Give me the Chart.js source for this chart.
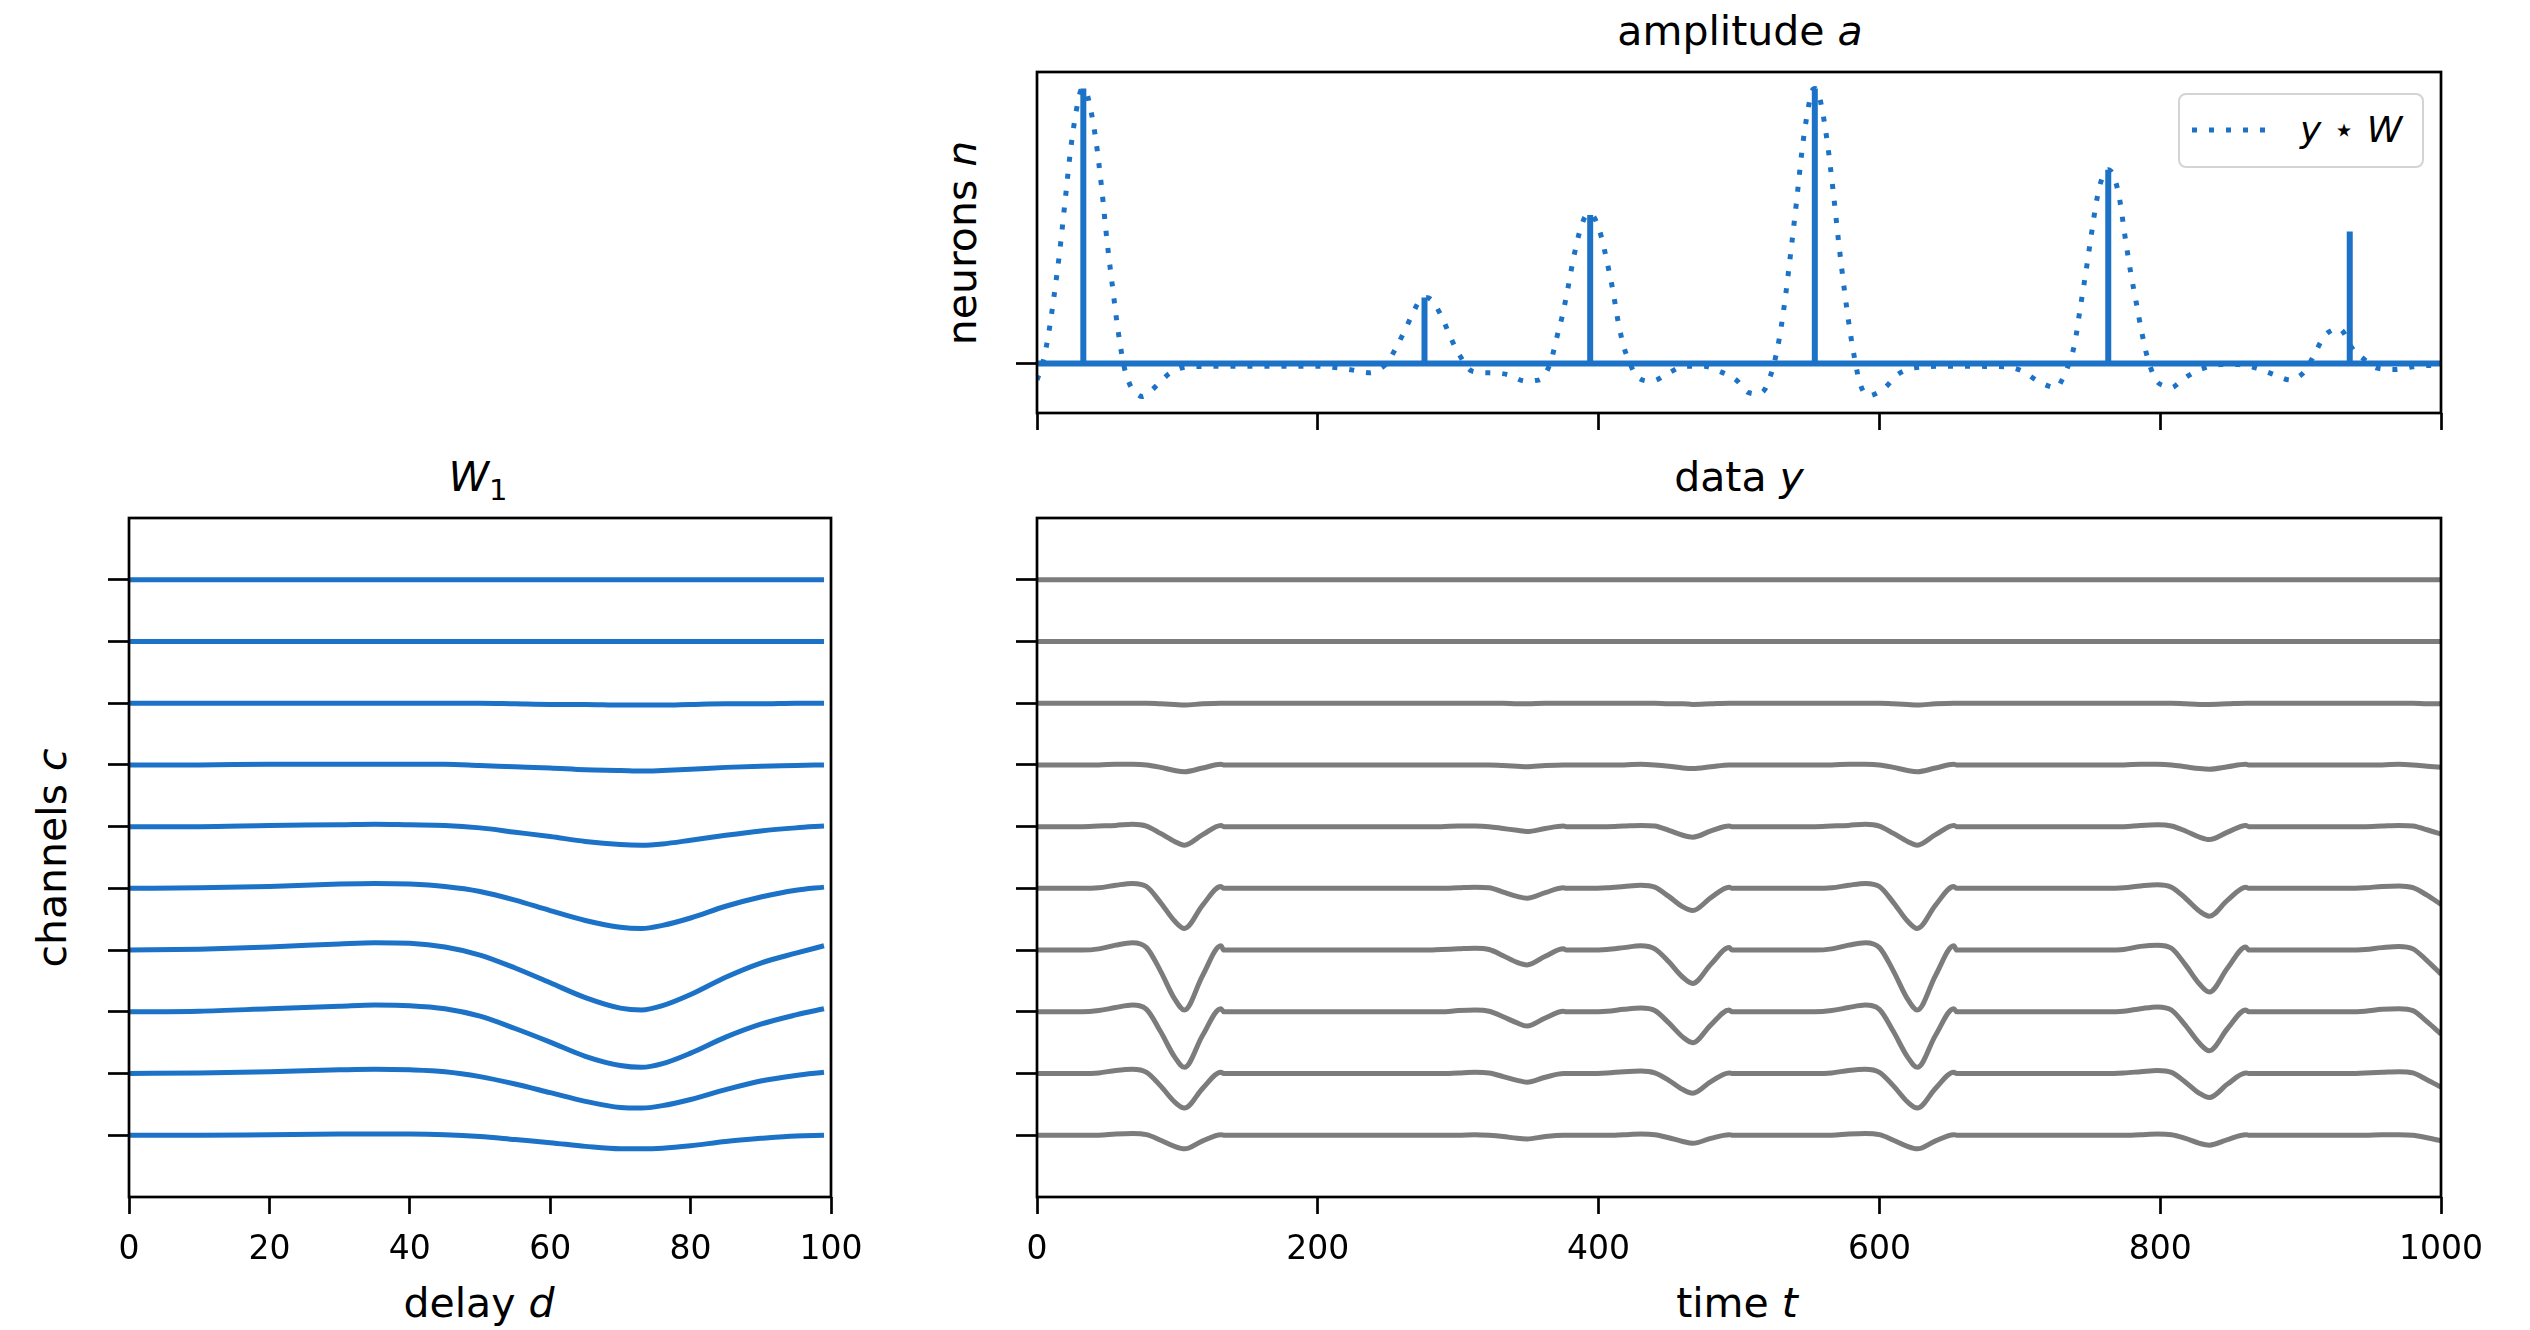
<!DOCTYPE html>
<html>
<head>
<meta charset="utf-8">
<script src="https://cdn.jsdelivr.net/npm/chart.js@4.4.1/dist/chart.umd.min.js"></script>
<style>
  html, body { margin: 0; padding: 0; background: #fff; }
  body { width: 2530px; height: 1330px; position: relative; overflow: hidden; font-family: 'DejaVu Sans', sans-serif; color: #000; }
  .panel { position: absolute; }
  .txt { position: absolute; transform: translate(-50%, -50%); white-space: nowrap; line-height: 1; }
  .rot { transform: translate(-50%, -50%) rotate(-90deg); }
  .big { font-size: 41px; }
  #legend { position: absolute; left: 2178px; top: 93px; width: 242px; height: 71px; border: 2px solid #d4d4d4; border-radius: 8px; background: #fff; }
  #legend svg { position: absolute; left: 10px; top: 31px; }
  #legend span { position: absolute; left: 120px; top: 35px; transform: translateY(-50%); font-size: 36px; line-height: 1; white-space: nowrap; }
</style>
</head>
<body>
<div class="panel" style="left:997px; top:62px;"><canvas id="ampChart" width="1504" height="376"></canvas></div>
<div class="panel" style="left:89px; top:508px;"><canvas id="wChart" width="802" height="769"></canvas></div>
<div class="panel" style="left:997px; top:508px;"><canvas id="dataChart" width="1504" height="769"></canvas></div>

<div class="txt big" style="left:1740px; top:31px;">amplitude <i>a</i></div>
<div class="txt big" style="left:478px; top:477px;"><i>W</i><span style="font-size:29px; position:relative; top:9px;">1</span></div>
<div class="txt big" style="left:1739px; top:477px;">data <i>y</i></div>
<div class="txt big rot" style="left:962px; top:243px;">neurons <i>n</i></div>
<div class="txt big rot" style="left:52px; top:858px;">channels <i>c</i></div>
<div class="txt big" style="left:479px; top:1303px;">delay <i>d</i></div>
<div class="txt big" style="left:1737px; top:1303px;">time <i>t</i></div>

<div id="legend">
  <svg width="80" height="8"><line x1="2" y1="4" x2="79" y2="4" stroke="#1c72c6" stroke-width="5" stroke-dasharray="5 12"/></svg>
  <span><i>y</i> &#8902; <i>W</i></span>
</div>

<script>
// W1: delay axis and one waveform per channel (top channel first)
const delays = [0, 10, 20, 30, 35, 40, 45, 50, 55, 60, 65, 70, 73, 76, 80, 85, 90, 95, 99];
const wCh0 = [0, 0, 0, 0, 0, 0, 0, 0, 0, 0, 0, 0, 0, 0, 0, 0, 0, 0, 0];
const wCh1 = [0, 0, 0, 0, 0, 0, 0, 0, 0, 0, 0, 0, 0, 0, 0, 0, 0, 0, 0];
const wCh2 = [0, 0, 0, 0, 0, 0, 0, 0, -0.01, -0.02, -0.02, -0.03, -0.03, -0.03, -0.02, -0.01, -0.01, 0, 0];
const wCh3 = [0, 0, 0.01, 0.01, 0.01, 0.01, 0.01, -0.01, -0.03, -0.05, -0.08, -0.09, -0.10, -0.09, -0.07, -0.04, -0.02, -0.01, 0];
const wCh4 = [0, 0, 0.02, 0.03, 0.04, 0.03, 0.02, -0.02, -0.09, -0.16, -0.24, -0.29, -0.30, -0.28, -0.22, -0.14, -0.07, -0.02, 0.01];
const wCh5 = [0, 0.01, 0.03, 0.07, 0.08, 0.07, 0.03, -0.05, -0.19, -0.36, -0.52, -0.63, -0.65, -0.60, -0.48, -0.29, -0.14, -0.03, 0.02];
const wCh6 = [0, 0.015, 0.05, 0.10, 0.12, 0.11, 0.05, -0.08, -0.29, -0.53, -0.77, -0.94, -0.97, -0.90, -0.72, -0.44, -0.21, -0.05, 0.07];
const wCh7 = [0, 0.01, 0.05, 0.09, 0.11, 0.10, 0.05, -0.07, -0.27, -0.49, -0.72, -0.87, -0.90, -0.84, -0.67, -0.41, -0.20, -0.05, 0.05];
const wCh8 = [0, 0.01, 0.03, 0.06, 0.07, 0.06, 0.03, -0.05, -0.17, -0.31, -0.45, -0.55, -0.56, -0.52, -0.42, -0.26, -0.12, -0.03, 0.02];
const wCh9 = [0, 0, 0.01, 0.02, 0.02, 0.02, 0.01, -0.02, -0.07, -0.12, -0.18, -0.22, -0.22, -0.21, -0.17, -0.10, -0.05, -0.01, 0];

// data y: sample times and one trace per channel
const times = [0,
  32, 44, 56, 68, 78, 88, 98, 105, 118, 131, 133,
  276, 288, 300, 312, 322, 332, 342, 349, 362, 375, 377,
  394, 406, 418, 430, 440, 450, 460, 467, 480, 493, 495,
  554, 566, 578, 590, 600, 610, 620, 627, 640, 653, 655,
  762, 774, 786, 798, 808, 818, 828, 835, 848, 861, 863,
  934, 946, 958, 970, 980, 990, 1000];
const yCh0 = [0,
  0, 0, 0, 0, 0, 0, 0, 0, 0, 0, 0,
  0, 0, 0, 0, 0, 0, 0, 0, 0, 0, 0,
  0, 0, 0, 0, 0, 0, 0, 0, 0, 0, 0,
  0, 0, 0, 0, 0, 0, 0, 0, 0, 0, 0,
  0, 0, 0, 0, 0, 0, 0, 0, 0, 0, 0,
  0, 0, 0, 0, 0, 0, 0];
const yCh1 = [0,
  0, 0, 0, 0, 0, 0, 0, 0, 0, 0, 0,
  0, 0, 0, 0, 0, 0, 0, 0, 0, 0, 0,
  0, 0, 0, 0, 0, 0, 0, 0, 0, 0, 0,
  0, 0, 0, 0, 0, 0, 0, 0, 0, 0, 0,
  0, 0, 0, 0, 0, 0, 0, 0, 0, 0, 0,
  0, 0, 0, 0, 0, 0, 0];
const yCh2 = [0,
  0, 0, 0, 0, 0, -0.01, -0.02, -0.03, -0.01, 0, 0,
  0, 0, 0, 0, 0, 0, -0.01, -0.01, 0, 0, 0,
  0, 0, 0, 0, 0, -0.01, -0.01, -0.02, -0.01, 0, 0,
  0, 0, 0, 0, 0, -0.01, -0.02, -0.03, -0.01, 0, 0,
  0, 0, 0, 0, 0, -0.01, -0.02, -0.02, -0.01, 0, 0,
  0, 0, 0, 0, 0, -0.01, -0.01];
const yCh3 = [0,
  0, 0, 0.01, 0.01, 0, -0.04, -0.09, -0.11, -0.05, 0.01, 0,
  0, 0, 0, 0, 0, -0.01, -0.02, -0.03, -0.01, 0, 0,
  0, 0, 0, 0.01, 0, -0.02, -0.05, -0.06, -0.03, 0, 0,
  0, 0, 0.01, 0.01, 0, -0.04, -0.09, -0.11, -0.05, 0.01, 0,
  0, 0, 0.01, 0.01, 0, -0.03, -0.06, -0.07, -0.03, 0.01, 0,
  0, 0, 0, 0.01, 0, -0.02, -0.04];
const yCh4 = [0,
  0, 0.01, 0.02, 0.04, 0.01, -0.11, -0.24, -0.30, -0.13, 0.02, 0,
  0, 0, 0.01, 0.01, 0, -0.03, -0.06, -0.08, -0.03, 0.01, 0,
  0, 0, 0.01, 0.02, 0.01, -0.06, -0.14, -0.17, -0.07, 0.01, 0,
  0, 0.01, 0.02, 0.04, 0.01, -0.11, -0.24, -0.30, -0.13, 0.02, 0,
  0, 0, 0.02, 0.03, 0.01, -0.07, -0.17, -0.21, -0.09, 0.02, 0,
  0, 0, 0.01, 0.02, 0.01, -0.05, -0.12];
const yCh5 = [0,
  0, 0.01, 0.05, 0.08, 0.03, -0.23, -0.53, -0.65, -0.27, 0.03, 0,
  0, 0, 0.01, 0.02, 0.01, -0.06, -0.13, -0.16, -0.07, 0.01, 0,
  0, 0.01, 0.03, 0.05, 0.02, -0.13, -0.30, -0.36, -0.15, 0.02, 0,
  0, 0.01, 0.05, 0.08, 0.03, -0.23, -0.53, -0.65, -0.27, 0.03, 0,
  0, 0.01, 0.04, 0.06, 0.02, -0.16, -0.37, -0.45, -0.19, 0.02, 0,
  0, 0.01, 0.03, 0.04, 0.01, -0.11, -0.26];
const yCh6 = [0,
  0, 0.02, 0.08, 0.12, 0.04, -0.34, -0.79, -0.97, -0.41, 0.07, 0,
  0, 0.01, 0.02, 0.03, 0.01, -0.09, -0.20, -0.24, -0.10, 0.02, 0,
  0, 0.01, 0.04, 0.07, 0.02, -0.19, -0.44, -0.54, -0.23, 0.04, 0,
  0, 0.02, 0.08, 0.12, 0.04, -0.34, -0.79, -0.97, -0.41, 0.07, 0,
  0, 0.01, 0.06, 0.08, 0.03, -0.24, -0.55, -0.68, -0.29, 0.05, 0,
  0, 0.01, 0.04, 0.06, 0.02, -0.17, -0.39];
const yCh7 = [0,
  0, 0.02, 0.07, 0.11, 0.04, -0.32, -0.73, -0.90, -0.38, 0.05, 0,
  0, 0, 0.02, 0.03, 0.01, -0.08, -0.18, -0.23, -0.10, 0.01, 0,
  0, 0.01, 0.04, 0.06, 0.02, -0.18, -0.41, -0.50, -0.21, 0.03, 0,
  0, 0.02, 0.07, 0.11, 0.04, -0.32, -0.73, -0.90, -0.38, 0.05, 0,
  0, 0.01, 0.05, 0.08, 0.03, -0.22, -0.51, -0.63, -0.27, 0.03, 0,
  0, 0.01, 0.04, 0.05, 0.02, -0.16, -0.36];
const yCh8 = [0,
  0, 0.01, 0.05, 0.07, 0.02, -0.20, -0.46, -0.56, -0.24, 0.02, 0,
  0, 0, 0.01, 0.02, 0.01, -0.05, -0.11, -0.14, -0.06, 0, 0,
  0, 0.01, 0.03, 0.04, 0.01, -0.11, -0.26, -0.32, -0.13, 0.01, 0,
  0, 0.01, 0.05, 0.07, 0.02, -0.20, -0.46, -0.56, -0.24, 0.02, 0,
  0, 0.01, 0.03, 0.05, 0.02, -0.14, -0.32, -0.39, -0.17, 0.01, 0,
  0, 0.01, 0.02, 0.03, 0.01, -0.10, -0.22];
const yCh9 = [0,
  0, 0, 0.02, 0.03, 0.01, -0.08, -0.18, -0.22, -0.09, 0.01, 0,
  0, 0, 0, 0.01, 0, -0.02, -0.05, -0.06, -0.02, 0, 0,
  0, 0, 0.01, 0.02, 0.01, -0.04, -0.10, -0.13, -0.05, 0.01, 0,
  0, 0, 0.02, 0.03, 0.01, -0.08, -0.18, -0.22, -0.09, 0.01, 0,
  0, 0, 0.01, 0.02, 0.01, -0.05, -0.13, -0.16, -0.07, 0.01, 0,
  0, 0, 0.01, 0.01, 0, -0.04, -0.09];

// amplitude a: spikes, and the dotted y * W curve as [t, value] pairs
const spikeTimes = [33, 276, 394, 554, 763, 935];
const spikeHeights = [1.0, 0.24, 0.54, 1.0, 0.705, 0.48];
const yStarW = [
  [0, -0.06], [4, 0], [8, 0.1], [12, 0.24], [16, 0.4], [20, 0.59], [24, 0.78], [28, 0.92], [31, 0.99], [33, 1.0],
  [35, 0.99], [38, 0.93], [42, 0.81], [46, 0.64], [50, 0.44], [54, 0.27], [58, 0.11], [62, -0.01], [66, -0.075],
  [71, -0.11], [75, -0.12], [80, -0.105], [86, -0.076], [95, -0.034], [108, -0.012], [150, -0.01], [200, -0.01],
  [215, -0.016], [225, -0.024], [237, -0.034], [244, -0.02], [249, 0], [255, 0.05], [261, 0.11], [267, 0.175],
  [272, 0.225], [276, 0.24], [280, 0.235], [284, 0.21], [290, 0.15], [295, 0.09], [301, 0.03], [310, -0.028],
  [322, -0.034], [335, -0.04], [348, -0.064], [355, -0.062], [360, -0.052], [366, 0.008], [370, 0.09], [374, 0.17],
  [378, 0.27], [382, 0.38], [386, 0.47], [390, 0.53], [394, 0.545], [398, 0.52], [402, 0.46], [406, 0.37],
  [410, 0.27], [414, 0.15], [418, 0.06], [422, 0.005], [427, -0.046], [438, -0.064], [450, -0.034], [461, -0.01],
  [475, -0.01], [486, -0.028], [498, -0.06], [507, -0.106], [513, -0.11], [518, -0.097], [522, -0.05], [525, 0],
  [529, 0.1], [533, 0.24], [537, 0.41], [541, 0.59], [545, 0.78], [549, 0.92], [552, 0.99], [554, 1.0], [556, 0.99],
  [559, 0.93], [563, 0.8], [567, 0.63], [571, 0.44], [575, 0.27], [579, 0.12], [583, 0], [586, -0.07], [592, -0.118],
  [598, -0.108], [604, -0.088], [613, -0.04], [625, -0.016], [650, -0.01], [690, -0.012], [702, -0.028],
  [713, -0.064], [726, -0.088], [731, -0.05], [735, 0], [739, 0.07], [743, 0.2], [747, 0.33], [751, 0.47],
  [755, 0.6], [759, 0.68], [763, 0.705], [767, 0.68], [771, 0.6], [775, 0.46], [779, 0.33], [783, 0.22], [787, 0.11],
  [791, 0.02], [797, -0.06], [803, -0.082], [808, -0.088], [813, -0.072], [819, -0.048], [830, -0.019],
  [843, -0.004], [856, -0.004], [868, -0.016], [881, -0.04], [893, -0.06], [898, -0.05], [904, -0.022], [910, 0.036],
  [917, 0.1], [922, 0.12], [927, 0.128], [931, 0.11], [935, 0.07], [939, 0.04], [943, 0.024], [954, -0.016],
  [967, -0.022], [980, -0.012], [993, -0.007], [1000, -0.008]
];

const channelTicks = [0, 1, 2, 3, 4, 5, 6, 7, 8, 9];
const wChannels = [wCh0, wCh1, wCh2, wCh3, wCh4, wCh5, wCh6, wCh7, wCh8, wCh9];
const yChannels = [yCh0, yCh1, yCh2, yCh3, yCh4, yCh5, yCh6, yCh7, yCh8, yCh9];

const blue = '#1c72c6';
const gray = '#7c7c7c';
const fontName = 'DejaVu Sans';
Chart.defaults.font.family = fontName;

// box round the plot area, like the four spines
const frame = {
  id: 'frame',
  afterDraw(chart) {
    const { ctx, chartArea: a } = chart;
    ctx.save();
    ctx.strokeStyle = '#000';
    ctx.lineWidth = 2.7;
    ctx.strokeRect(a.left, a.top, a.right - a.left, a.bottom - a.top);
    ctx.restore();
  }
};

function scales(x, y) {
  return {
    x: {
      type: 'linear', min: x.min, max: x.max, offset: false,
      ticks: {
        display: x.labels, stepSize: x.step, autoSkip: false, maxRotation: 0, padding: 17,
        color: '#000', font: { family: fontName, size: 33 }, callback: v => String(v)
      },
      grid: { drawOnChartArea: false, tickLength: 17, tickWidth: 2.7, tickColor: '#000' },
      border: { display: false },
      afterFit: s => { s.height = x.labels ? 80 : 25; }
    },
    y: {
      type: 'linear', min: y.min, max: y.max,
      afterBuildTicks: s => { s.ticks = y.ticks.map(v => ({ value: v })); },
      ticks: { display: false },
      grid: { drawOnChartArea: false, tickLength: 21, tickWidth: 2.7, tickColor: '#000' },
      border: { display: false },
      afterFit: s => { s.width = 40; }
    }
  };
}

function baseOptions(sc) {
  return {
    responsive: false, animation: false, devicePixelRatio: 1, events: [],
    layout: { padding: { top: 10, right: 60, bottom: 0, left: 0 } },
    plugins: { legend: { display: false }, tooltip: { enabled: false } },
    elements: { point: { radius: 0 } },
    scales: sc
  };
}

// amplitude panel
const ampLine = [{ x: 0, y: 0 }];
spikeTimes.forEach((t, i) => {
  ampLine.push({ x: t, y: 0 }, { x: t, y: spikeHeights[i] }, { x: t, y: 0 });
});
ampLine.push({ x: 1000, y: 0 });

new Chart(document.getElementById('ampChart'), {
  type: 'line',
  data: {
    datasets: [
      {
        label: 'y * W',
        data: yStarW.map(p => ({ x: p[0], y: p[1] })),
        borderColor: blue, borderWidth: 5, borderDash: [5, 12], borderCapStyle: 'butt',
        cubicInterpolationMode: 'monotone', fill: false
      },
      {
        label: 'a',
        data: ampLine,
        borderColor: blue, borderWidth: 6, borderJoinStyle: 'bevel', tension: 0, fill: false
      }
    ]
  },
  options: baseOptions(scales(
    { min: 0, max: 1000, step: 200, labels: false },
    { min: -0.18, max: 1.06, ticks: [0] }
  )),
  plugins: [frame]
});

// W1 panel
new Chart(document.getElementById('wChart'), {
  type: 'line',
  data: {
    datasets: wChannels.map((w, c) => ({
      label: 'channel ' + c,
      data: delays.map((d, i) => ({ x: d, y: (9 - c) + w[i] })),
      borderColor: blue, borderWidth: 5, cubicInterpolationMode: 'monotone', fill: false
    }))
  },
  options: baseOptions(scales(
    { min: 0, max: 100, step: 20, labels: true },
    { min: -1, max: 10, ticks: channelTicks }
  )),
  plugins: [frame]
});

// data panel
new Chart(document.getElementById('dataChart'), {
  type: 'line',
  data: {
    datasets: yChannels.map((v, c) => ({
      label: 'channel ' + c,
      data: times.map((t, i) => ({ x: t, y: (9 - c) + v[i] })),
      borderColor: gray, borderWidth: 5, cubicInterpolationMode: 'monotone', borderJoinStyle: 'round', fill: false
    }))
  },
  options: baseOptions(scales(
    { min: 0, max: 1000, step: 200, labels: true },
    { min: -1, max: 10, ticks: channelTicks }
  )),
  plugins: [frame]
});
</script>
</body>
</html>
